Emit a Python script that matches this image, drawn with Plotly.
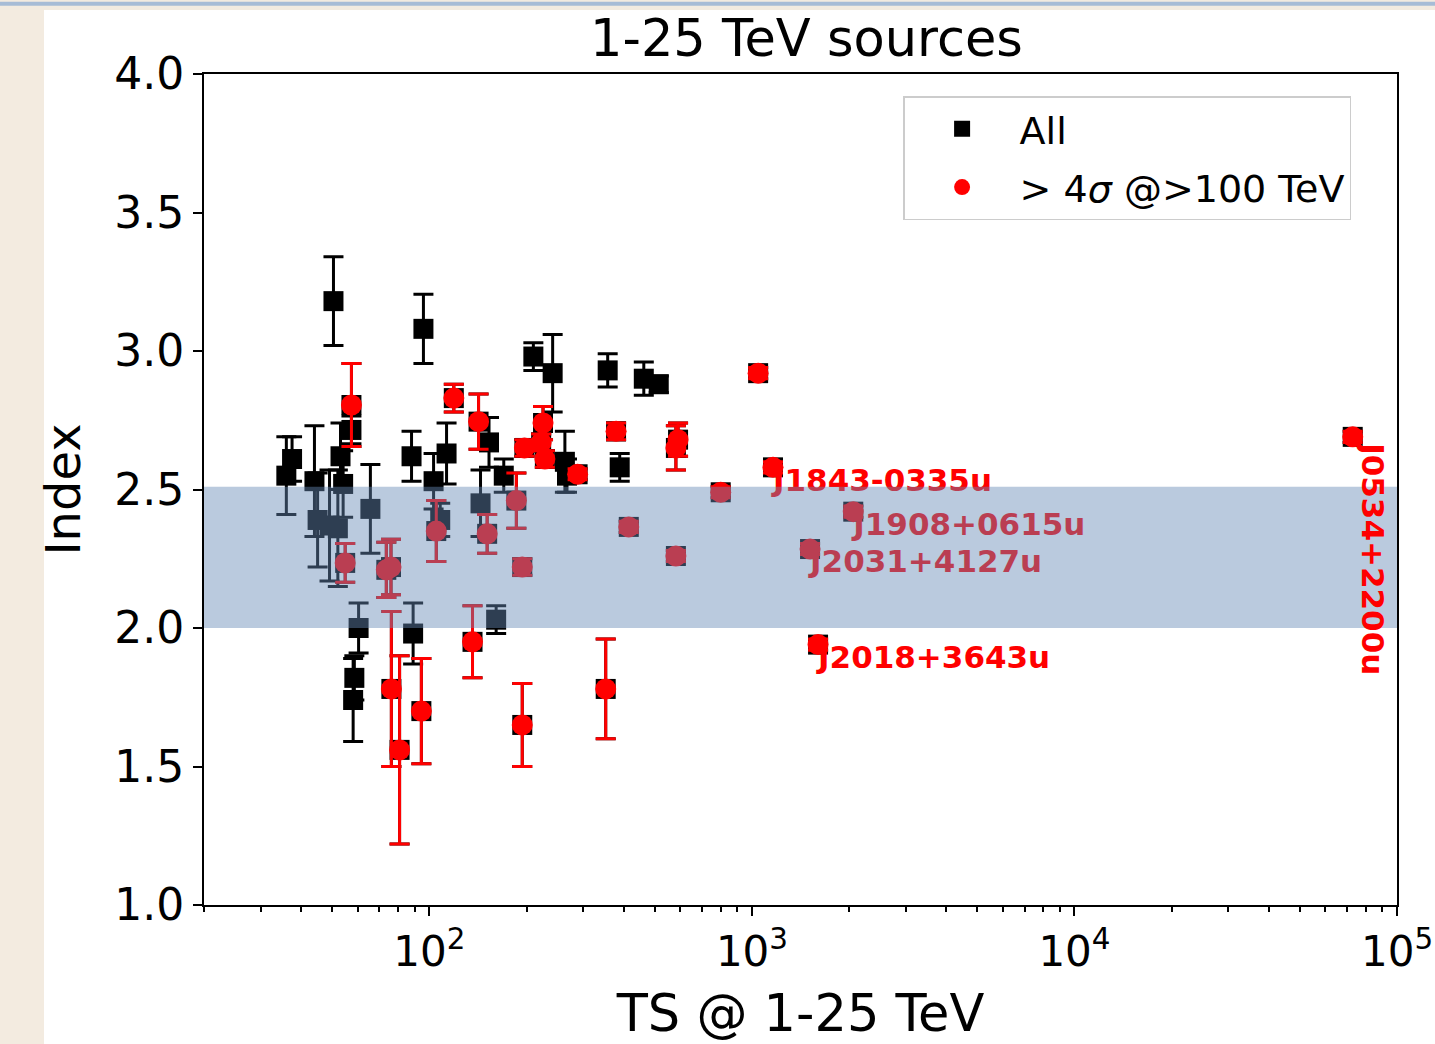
import math
import plotly.graph_objects as go

# ---- Data ----
# Black squares: sources only in "All"
all_ts = [36, 37.5, 50.4, 95.8, 44, 45, 49, 52, 57.3, 53, 54, 65.6, 60.3, 58.5, 58,
          88, 89, 103, 108, 113, 144, 153, 161, 170, 210, 241, 263, 267, 357, 389, 462, 514]
all_idx = [2.55, 2.61, 3.18, 3.08, 2.53, 2.39, 2.37, 2.36, 2.715, 2.62, 2.52, 2.43, 2.00, 1.82, 1.74,
           2.62, 1.98, 2.53, 2.39, 2.63, 2.45, 2.67, 2.03, 2.55, 2.98, 2.92, 2.60, 2.55, 2.93, 2.58, 2.90, 2.88]
all_err = [0.14, 0.08, 0.16, 0.125, 0.20, 0.17, 0.20, 0.21, 0.05, 0.12, 0.12, 0.16, 0.09, 0.08, 0.15,
           0.09, 0.11, 0.10, 0.06, 0.11, 0.12, 0.09, 0.05, 0.06, 0.05, 0.14, 0.11, 0.06, 0.06, 0.05, 0.06, 0.03]

# Red circles: > 4 sigma @ >100 TeV
hi_ts = [57.3, 54.8, 73.5, 76, 76.2, 80.8, 94.4, 105, 119, 136, 142, 151, 186, 194, 194, 197,
         225, 228, 222, 288, 352, 379, 415, 581, 581, 590, 800, 1045, 1162, 2061, 1514, 1603, 72900]
hi_idx = [2.805, 2.235, 2.21, 2.22, 1.78, 1.56, 1.70, 2.35, 2.83, 1.95, 2.745, 2.34, 2.46, 2.22, 1.65, 2.65,
          2.74, 2.61, 2.67, 2.555, 1.78, 2.71, 2.365, 2.65, 2.26, 2.68, 2.49, 2.92, 2.58, 2.42, 2.285, 1.94, 2.69]
hi_err = [0.15, 0.07, 0.10, 0.10, 0.28, 0.34, 0.19, 0.11, 0.05, 0.13, 0.10, 0.07, 0.10, 0.03, 0.15, 0.03,
          0.06, 0.03, 0.03, 0.02, 0.18, 0.03, 0.02, 0.08, 0.02, 0.06, 0.02, 0.02, 0.02, 0.02, 0.02, 0.02, 0.02]

# Labelled sources
lab_ts = [1162, 2061, 1514, 1603]
lab_idx = [2.58, 2.42, 2.285, 1.94]
lab_names = ["J1843-0335u", "J1908+0615u", "J2031+4127u", "J2018+3643u"]
crab_ts, crab_idx, crab_name = 72900, 2.69, "J0534+2200u"

band = [2.0, 2.51]

x_tickvals = [100, 1000, 10000, 100000]
x_ticktext = ["10<sup>2</sup>", "10<sup>3</sup>", "10<sup>4</sup>", "10<sup>5</sup>"]
y_tickvals = [1.0, 1.5, 2.0, 2.5, 3.0, 3.5, 4.0]
x_minor = [m * 10 ** e for e in range(1, 5) for m in range(2, 10)]

FONT = "DejaVu Sans"

fig = go.Figure()

# All sources (the >100 TeV ones are also part of "All")
fig.add_trace(go.Scatter(
    x=all_ts + hi_ts, y=all_idx + hi_idx, mode="markers", name="All", legendgroup="all",
    marker=dict(symbol="square", size=20, color="black"),
    error_y=dict(type="data", array=all_err + hi_err, color="black", thickness=3, width=10),
))
fig.add_trace(go.Scatter(
    x=hi_ts, y=hi_idx, mode="markers", name="> 4<i>σ</i> @>100 TeV", legendgroup="hi",
    marker=dict(symbol="circle", size=21, color="red"),
    error_y=dict(type="data", array=hi_err, color="red", thickness=3, width=10),
))
fig.add_trace(go.Scatter(
    x=lab_ts, y=lab_idx, mode="text", text=lab_names, textposition="bottom right",
    textfont=dict(family=FONT, size=31, color="red", weight="bold"), showlegend=False,
))

shapes = [
    # page background pieces
    dict(type="rect", xref="paper", yref="paper", x0=-0.1341, x1=1.06, y0=-0.2, y1=1.077,
         fillcolor="white", line=dict(width=0), layer="below"),
    dict(type="line", xref="paper", yref="paper", x0=-0.2, x1=1.06, y0=1.0845, y1=1.0845,
         line=dict(color="#a7bcd6", width=4), layer="below"),
    # shaded band
    dict(type="rect", xref="paper", yref="y", x0=0, x1=1, y0=band[0], y1=band[1],
         fillcolor="rgba(101,138,182,0.45)", line=dict(width=0), layer="above"),
]

fig.update_layout(
    width=1435, height=1044,
    margin=dict(l=204, r=38, t=74, b=139, autoexpand=False),
    paper_bgcolor="#f3ebe0", plot_bgcolor="white",
    font=dict(family=FONT, color="black"),
    title=dict(text="1-25 TeV sources", x=0.505, xref="paper", xanchor="center",
               y=1 - 38 / 1044, yanchor="middle", font=dict(family=FONT, size=51, color="black")),
    shapes=shapes,
    legend=dict(x=0.586, y=0.9735, xanchor="left", yanchor="top", bgcolor="white",
                bordercolor="#cccccc", borderwidth=1.5, font=dict(family=FONT, size=38),
                itemwidth=105, tracegroupgap=6),
    annotations=[dict(x=math.log10(crab_ts), y=crab_idx, xref="x", yref="y", text=crab_name,
                      textangle=90, showarrow=False, xanchor="left", yanchor="top",
                      xshift=0, yshift=-2,
                      font=dict(family=FONT, size=31, color="red", weight="bold"))],
)

fig.update_xaxes(
    type="log", range=[1.301, 5.0], tickmode="array", tickvals=x_tickvals, ticktext=x_ticktext,
    ticks="outside", ticklen=9, tickwidth=2, tickcolor="black",
    minor=dict(tickmode="array", tickvals=x_minor, ticks="outside", ticklen=5, tickwidth=1.5,
               tickcolor="black", showgrid=False),
    showline=True, linecolor="black", linewidth=2, mirror=True, showgrid=False, zeroline=False,
    tickfont=dict(family=FONT, size=42, color="black"),
    title=dict(text="TS @ 1-25 TeV", font=dict(family=FONT, size=51, color="black"), standoff=20),
    automargin=False,
)
fig.update_yaxes(
    range=[1.0, 4.0], tickmode="array", tickvals=y_tickvals, tickformat=".1f",
    ticks="outside", ticklen=9, tickwidth=2, tickcolor="black",
    showline=True, linecolor="black", linewidth=2, mirror=True, showgrid=False, zeroline=False,
    tickfont=dict(family=FONT, size=44, color="black"),
    title=dict(text="Index", font=dict(family=FONT, size=48, color="black"), standoff=18),
    automargin=False,
)

fig.write_html("out.html")
